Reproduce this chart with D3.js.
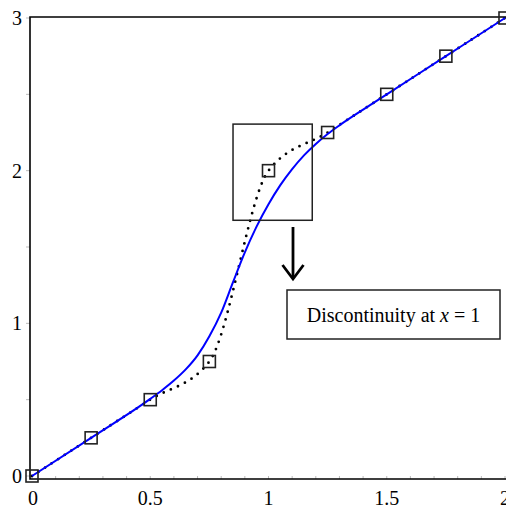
<!DOCTYPE html>
<html lang="en">
<head>
<meta charset="UTF-8" />
<title>Discontinuity at x = 1</title>
<script src="https://d3js.org/d3.v7.min.js"></script>
<style>
  html, body { margin: 0; padding: 0; background: #fff; }
</style>
</head>
<body>
<div id="chart"></div>
<script>
// sampled data points (squares + dotted interpolation)
const sampleX = [0, 0.25, 0.5, 0.75, 1, 1.25, 1.5, 1.75, 2];
const sampleY = [0, 0.25, 0.5, 0.75, 2, 2.25, 2.5, 2.75, 3];

// smooth fitted curve (blue)
const fitX = [0, 0.25, 0.5, 0.55, 0.6, 0.65, 0.7, 0.75, 0.8, 0.85, 0.9, 0.95, 1.0, 1.05, 1.1, 1.15, 1.2, 1.25, 1.3, 1.4, 1.5, 1.75, 2];
const fitY = [0, 0.25, 0.505, 0.562, 0.625, 0.698, 0.79, 0.915, 1.07, 1.27, 1.465, 1.635, 1.78, 1.905, 2.01, 2.10, 2.175, 2.24, 2.297, 2.4, 2.5, 2.75, 3];

const xTicks = [0, 0.5, 1, 1.5, 2];
const xTickLabels = ["0", "0.5", "1", "1.5", "2"];
const yTicks = [0, 1, 2, 3];
const yTickLabels = ["0", "1", "2", "3"];

// annotation: zoom box, arrow, label
const boxX = [0.85, 1.185];
const boxY = [1.675, 2.305];
const noteText = ["Discontinuity at ", "x", " = 1"];

const width = 506, height = 510;
const serif = "'Liberation Serif', 'Times New Roman', 'DejaVu Serif', serif";
const svg = d3.select("#chart").append("svg")
  .attr("width", width).attr("height", height)
  .attr("font-family", serif);

const x = d3.scaleLinear().domain([0, 2]).range([32, 505]);
const y = d3.scaleLinear().domain([0, 3]).range([476, 18]);
const frameL = 30, frameB = 479, frameT = 17;

// minor ticks
svg.append("g").selectAll("line")
  .data(d3.range(0, 21).map(i => i / 10))
  .join("line")
  .attr("x1", d => x(d)).attr("x2", d => x(d))
  .attr("y1", frameB).attr("y2", frameB - 3)
  .attr("stroke", "#bbb").attr("stroke-width", 1);
svg.append("g").selectAll("line")
  .data(d3.range(0, 7).map(i => i / 2))
  .join("line")
  .attr("x1", frameL - 4).attr("x2", frameL)
  .attr("y1", d => y(d)).attr("y2", d => y(d))
  .attr("stroke", "#bbb").attr("stroke-width", 1);

// frame
svg.append("path")
  .attr("d", `M${width},${frameT}H${frameL}V${frameB}H${width}`)
  .attr("fill", "none").attr("stroke", "#000").attr("stroke-width", 1.6);

// tick labels
svg.append("g").selectAll("text")
  .data(xTicks)
  .join("text")
  .attr("x", (d, i) => x(d) + (i === 0 ? 1 : 0))
  .attr("y", 505)
  .attr("text-anchor", "middle")
  .attr("font-size", 20)
  .text((d, i) => xTickLabels[i]);
svg.append("g").selectAll("text")
  .data(yTicks)
  .join("text")
  .attr("x", 22)
  .attr("y", d => y(d) + 7)
  .attr("text-anchor", "end")
  .attr("font-size", 20)
  .text((d, i) => yTickLabels[i]);

// dotted interpolation
const pts = sampleX.map((v, i) => [v, sampleY[i]]);
svg.append("path")
  .datum(pts)
  .attr("d", d3.line().x(d => x(d[0])).y(d => y(d[1])).curve(d3.curveMonotoneX))
  .attr("fill", "none").attr("stroke", "#000")
  .attr("stroke-width", 2.8).attr("stroke-linecap", "round")
  .attr("stroke-dasharray", "0 7.8");

// blue fit
const fit = fitX.map((v, i) => [v, fitY[i]]);
svg.append("path")
  .datum(fit)
  .attr("d", d3.line().x(d => x(d[0])).y(d => y(d[1])).curve(d3.curveMonotoneX))
  .attr("fill", "none").attr("stroke", "#0000ff").attr("stroke-width", 2);

// square markers
svg.append("g").selectAll("rect")
  .data(pts)
  .join("rect")
  .attr("x", d => x(d[0]) - 6).attr("y", d => y(d[1]) - 6)
  .attr("width", 12).attr("height", 12)
  .attr("fill", "none").attr("stroke", "#222").attr("stroke-width", 1.6);

// zoom box
svg.append("rect")
  .attr("x", x(boxX[0])).attr("y", y(boxY[1]))
  .attr("width", x(boxX[1]) - x(boxX[0]))
  .attr("height", y(boxY[0]) - y(boxY[1]))
  .attr("fill", "none").attr("stroke", "#222").attr("stroke-width", 1.5);

// arrow
const ax = 293;
svg.append("line")
  .attr("x1", ax).attr("x2", ax).attr("y1", 227).attr("y2", 277)
  .attr("stroke", "#000").attr("stroke-width", 2.8);
svg.append("path")
  .attr("d", `M${ax - 10.5},${265}L${ax},${279}L${ax + 10.5},${265}`)
  .attr("fill", "none").attr("stroke", "#000").attr("stroke-width", 2.8);

// label box
svg.append("rect")
  .attr("x", 287).attr("y", 290).attr("width", 213).attr("height", 49)
  .attr("fill", "#fff").attr("stroke", "#222").attr("stroke-width", 1.5);
const note = svg.append("text")
  .attr("x", 393.5).attr("y", 322)
  .attr("text-anchor", "middle")
  .attr("font-size", 20);
noteText.forEach((s, i) => {
  note.append("tspan").attr("font-style", i === 1 ? "italic" : null).text(s);
});
</script>
</body>
</html>
